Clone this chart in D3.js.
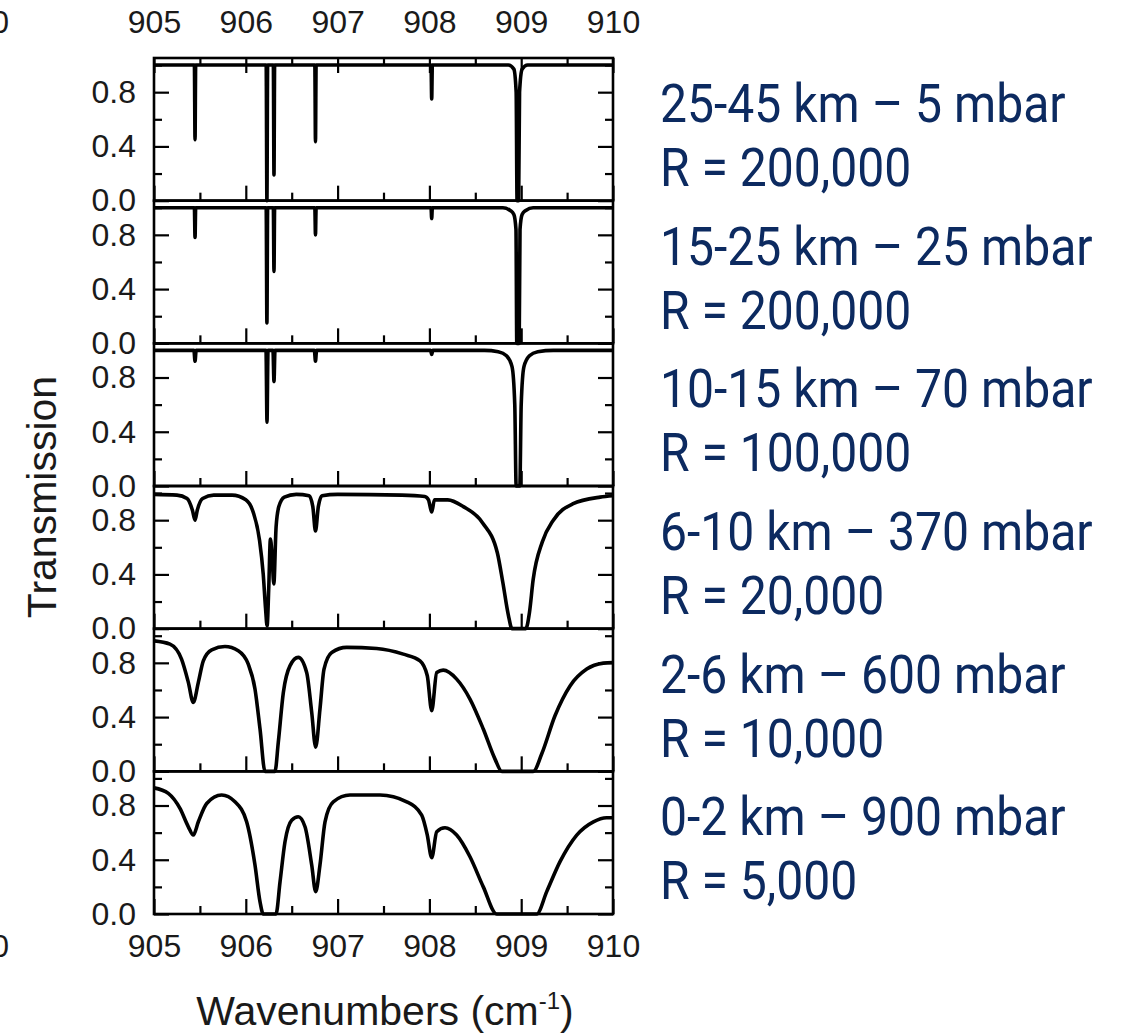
<!DOCTYPE html>
<html>
<head>
<meta charset="utf-8">
<script src="https://cdn.jsdelivr.net/npm/d3@7"></script>
<style>
  body { margin: 0; background: #fff; }
  svg { display: block; }
</style>
</head>
<body>
<svg></svg>
<script>
// labels on the right of each panel
const altitudeLabels = ["25-45 km – 5 mbar", "15-25 km – 25 mbar", "10-15 km – 70 mbar",
                        "6-10 km – 370 mbar", "2-6 km – 600 mbar", "0-2 km – 900 mbar"];
const resolutionLabels = ["R = 200,000", "R = 200,000", "R = 100,000",
                          "R = 20,000", "R = 10,000", "R = 5,000"];

const xMajor = [905, 906, 907, 908, 909, 910];
const xMinor = [905.5, 906.5, 907.5, 908.5, 909.5];
const yMajor = [0, 0.4, 0.8];
const yMinor = [0.2, 0.6, 1.0];

// [wavenumber, transmission], one array per panel
const spec25to45 = [
  [905.0, 1.0], [905.44, 1.0], [905.447, 0.45], [905.454, 1.0],
  [906.222, 1.0], [906.230, 0.0], [906.238, 1.0],
  [906.300, 1.0], [906.307, 0.19], [906.314, 1.0],
  [906.752, 1.0], [906.759, 0.435], [906.766, 1.0],
  [908.018, 1.0], [908.025, 0.75], [908.032, 1.0],
  [908.86, 1.0], [908.92, 0.97], [908.945, 0.8], [908.955, 0.0], [908.972, 0.0],
  [908.982, 0.8], [909.01, 0.97], [909.07, 1.0], [910.0, 1.0]
];
const spec15to25 = [
  [905.0, 1.0], [905.44, 1.0], [905.447, 0.78], [905.454, 1.0],
  [906.222, 1.0], [906.230, 0.15], [906.238, 1.0],
  [906.300, 1.0], [906.307, 0.53], [906.314, 1.0],
  [906.752, 1.0], [906.759, 0.80], [906.766, 1.0],
  [908.018, 1.0], [908.025, 0.92], [908.032, 1.0],
  [908.80, 1.0], [908.88, 0.98], [908.92, 0.95], [908.943, 0.84], [908.952, 0.0],
  [908.978, 0.0], [908.987, 0.84], [909.01, 0.95], [909.05, 0.98], [909.13, 1.0], [910.0, 1.0]
];
const spec10to15 = [
  [905.0, 1.0], [905.435, 1.0], [905.447, 0.92], [905.459, 1.0],
  [906.220, 1.0], [906.231, 0.47], [906.242, 1.0],
  [906.296, 1.0], [906.307, 0.77], [906.318, 1.0],
  [906.747, 1.0], [906.759, 0.92], [906.771, 1.0],
  [908.013, 1.0], [908.025, 0.97], [908.037, 1.0],
  [908.60, 1.0], [908.75, 0.99], [908.84, 0.96], [908.90, 0.88], [908.93, 0.6],
  [908.945, 0.0], [908.985, 0.0], [909.0, 0.6], [909.03, 0.88], [909.09, 0.96],
  [909.18, 0.99], [909.35, 1.0], [910.0, 1.0]
];
const spec6to10 = [
  [905.0, 0.99], [905.25, 0.985], [905.36, 0.96], [905.42, 0.87], [905.447, 0.80],
  [905.47, 0.87], [905.53, 0.96], [905.65, 0.985], [905.85, 0.985], [906.0, 0.95],
  [906.08, 0.86], [906.15, 0.65], [906.19, 0.40], [906.215, 0.15], [906.232, 0.02],
  [906.25, 0.30], [906.268, 0.66], [906.285, 0.55], [906.305, 0.33], [906.33, 0.75],
  [906.36, 0.90], [906.42, 0.97], [906.55, 0.99], [906.69, 0.98], [906.73, 0.90],
  [906.759, 0.72], [906.79, 0.90], [906.83, 0.98], [907.0, 0.99], [907.7, 0.985],
  [907.95, 0.975], [907.99, 0.95], [908.025, 0.86], [908.055, 0.95], [908.2, 0.95],
  [908.37, 0.90], [908.58, 0.78], [908.74, 0.56], [908.80, 0.34], [908.86, 0.10],
  [908.90, 0.0], [909.05, 0.0], [909.09, 0.12], [909.13, 0.36], [909.23, 0.64],
  [909.35, 0.80], [909.56, 0.92], [909.86, 0.97], [910.0, 0.98]
];
const spec2to6 = [
  [905.0, 0.962], [905.174, 0.938], [905.30, 0.827], [905.374, 0.656], [905.428, 0.508],
  [905.483, 0.656], [905.537, 0.815], [905.629, 0.896], [905.773, 0.92], [905.918, 0.889],
  [906.027, 0.79], [906.10, 0.607], [906.155, 0.312], [906.209, 0.0], [906.318, 0.0],
  [906.354, 0.214], [906.409, 0.582], [906.481, 0.778], [906.572, 0.84], [906.663, 0.729],
  [906.718, 0.435], [906.761, 0.178], [906.808, 0.46], [906.852, 0.754], [906.936, 0.877],
  [907.099, 0.914], [907.426, 0.906], [907.716, 0.864], [907.898, 0.815], [907.977, 0.705],
  [908.025, 0.447], [908.08, 0.729], [908.151, 0.746], [908.297, 0.68], [908.442, 0.533],
  [908.587, 0.312], [908.715, 0.09], [908.788, 0.0], [909.132, 0.0], [909.223, 0.128],
  [909.368, 0.41], [909.532, 0.63], [909.714, 0.754], [909.895, 0.798], [910.0, 0.803]
];
const spec0to2 = [
  [905.0, 0.93], [905.156, 0.889], [905.283, 0.778], [905.374, 0.643], [905.428, 0.582],
  [905.483, 0.68], [905.574, 0.815], [905.737, 0.877], [905.882, 0.827], [906.009, 0.68],
  [906.10, 0.361], [906.155, 0.09], [906.19, 0.0], [906.329, 0.0], [906.373, 0.238],
  [906.427, 0.533], [906.50, 0.692], [906.572, 0.717], [906.645, 0.643], [906.718, 0.361],
  [906.761, 0.165], [906.808, 0.361], [906.863, 0.68], [906.953, 0.827], [907.135, 0.877],
  [907.462, 0.877], [907.753, 0.827], [907.916, 0.729], [907.977, 0.582], [908.025, 0.415],
  [908.08, 0.607], [908.17, 0.636], [908.297, 0.582], [908.442, 0.422], [908.587, 0.2],
  [908.733, 0.0], [909.169, 0.0], [909.278, 0.165], [909.423, 0.386], [909.605, 0.582],
  [909.786, 0.68], [909.931, 0.71], [910.0, 0.71]
];

const spectra = [spec25to45, spec15to25, spec10to15, spec6to10, spec2to6, spec0to2];

const width = 1122, height = 1035;
const plotLeft = 154, plotRight = 613, plotTop = 58, plotBottom = 914;
const panelH = (plotBottom - plotTop) / spectra.length;
const tickFont = "'Liberation Sans', Arial, sans-serif";

const svg = d3.select("svg").attr("width", width).attr("height", height);

const x = d3.scaleLinear().domain([905, 910]).range([plotLeft, plotRight]);

function styleAxis(g, size) {
  g.select(".domain").remove();
  g.selectAll("line").attr("stroke", "#000").attr("stroke-width", 2.2);
  g.selectAll("text").attr("fill", "#1a1a1a").style("font-family", tickFont).style("font-size", size + "px");
}

spectra.forEach(function (data, i) {
  const y0 = plotTop + i * panelH;
  const y1 = y0 + panelH;
  const y = d3.scaleLinear().domain([0, 1.052]).range([y1, y0]);
  const g = svg.append("g");

  // left axis with labels
  g.append("g").attr("transform", "translate(" + plotLeft + ",0)")
    .call(d3.axisLeft(y).tickValues(yMajor).tickSize(-15).tickPadding(18).tickFormat(d3.format(".1f")))
    .call(styleAxis, 32);
  g.append("g").attr("transform", "translate(" + plotLeft + ",0)")
    .call(d3.axisLeft(y).tickValues(yMinor).tickSize(-8).tickFormat(""))
    .call(styleAxis, 32);
  // right axis
  g.append("g").attr("transform", "translate(" + plotRight + ",0)")
    .call(d3.axisRight(y).tickValues(yMajor).tickSize(-15).tickFormat(""))
    .call(styleAxis, 32);
  g.append("g").attr("transform", "translate(" + plotRight + ",0)")
    .call(d3.axisRight(y).tickValues(yMinor).tickSize(-8).tickFormat(""))
    .call(styleAxis, 32);
  // bottom axis
  g.append("g").attr("transform", "translate(0," + y1 + ")")
    .call(d3.axisBottom(x).tickValues(xMajor).tickSize(-15).tickPadding(20)
      .tickFormat(i === spectra.length - 1 ? d3.format("d") : ""))
    .call(styleAxis, 32);
  g.append("g").attr("transform", "translate(0," + y1 + ")")
    .call(d3.axisBottom(x).tickValues(xMinor).tickSize(-8).tickFormat(""))
    .call(styleAxis, 32);
  if (i === 0) {
    g.append("g").attr("transform", "translate(0," + y0 + ")")
      .call(d3.axisTop(x).tickValues(xMajor).tickSize(-15).tickPadding(25).tickFormat(d3.format("d")))
      .call(styleAxis, 32);
    g.append("g").attr("transform", "translate(0," + y0 + ")")
      .call(d3.axisTop(x).tickValues(xMinor).tickSize(-8).tickFormat(""))
      .call(styleAxis, 32);
  }

  // frame
  g.append("rect")
    .attr("x", plotLeft).attr("y", y0)
    .attr("width", plotRight - plotLeft).attr("height", panelH)
    .attr("fill", "none").attr("stroke", "#000").attr("stroke-width", 2.6);

  // spectrum
  const line = d3.line()
    .x(function (d) { return x(d[0]); })
    .y(function (d) { return y(d[1]); })
    .curve(d3.curveMonotoneX);
  g.append("path")
    .datum(data)
    .attr("d", line)
    .attr("fill", "none")
    .attr("stroke", "#000")
    .attr("stroke-width", 3.6)
    .attr("stroke-linejoin", "round");

  // right side labels
  const t = svg.append("g")
    .attr("transform", "translate(660," + (122 + i * panelH) + ") scale(0.89,1)")
    .style("font-family", "Roboto, 'Noto Sans', sans-serif")
    .style("font-size", "54px")
    .attr("fill", "#0c2a60");
  t.append("text").attr("x", 0).attr("y", 0).text(altitudeLabels[i]);
  t.append("text").attr("x", 0).attr("y", 64).text(resolutionLabels[i]);
});

// axis titles
svg.append("text")
  .attr("transform", "translate(56,497) rotate(-90)")
  .attr("text-anchor", "middle")
  .attr("fill", "#1a1a1a")
  .style("font-family", tickFont)
  .style("font-size", "41px")
  .text("Transmission");

const xt = svg.append("text")
  .attr("x", 385).attr("y", 1025)
  .attr("text-anchor", "middle")
  .attr("fill", "#1a1a1a")
  .style("font-family", tickFont)
  .style("font-size", "41px");
xt.append("tspan").text("Wavenumbers (cm");
xt.append("tspan").attr("dy", -16).style("font-size", "24px").text("-1");
xt.append("tspan").attr("dy", 16).text(")");

// stray label pieces cut off at the left edge of the original
[33, 957].forEach(function (yy) {
  svg.append("text")
    .attr("x", 9).attr("y", yy)
    .attr("text-anchor", "end")
    .attr("fill", "#1a1a1a")
    .style("font-family", tickFont)
    .style("font-size", "31px")
    .text("0");
});
</script>
</body>
</html>
